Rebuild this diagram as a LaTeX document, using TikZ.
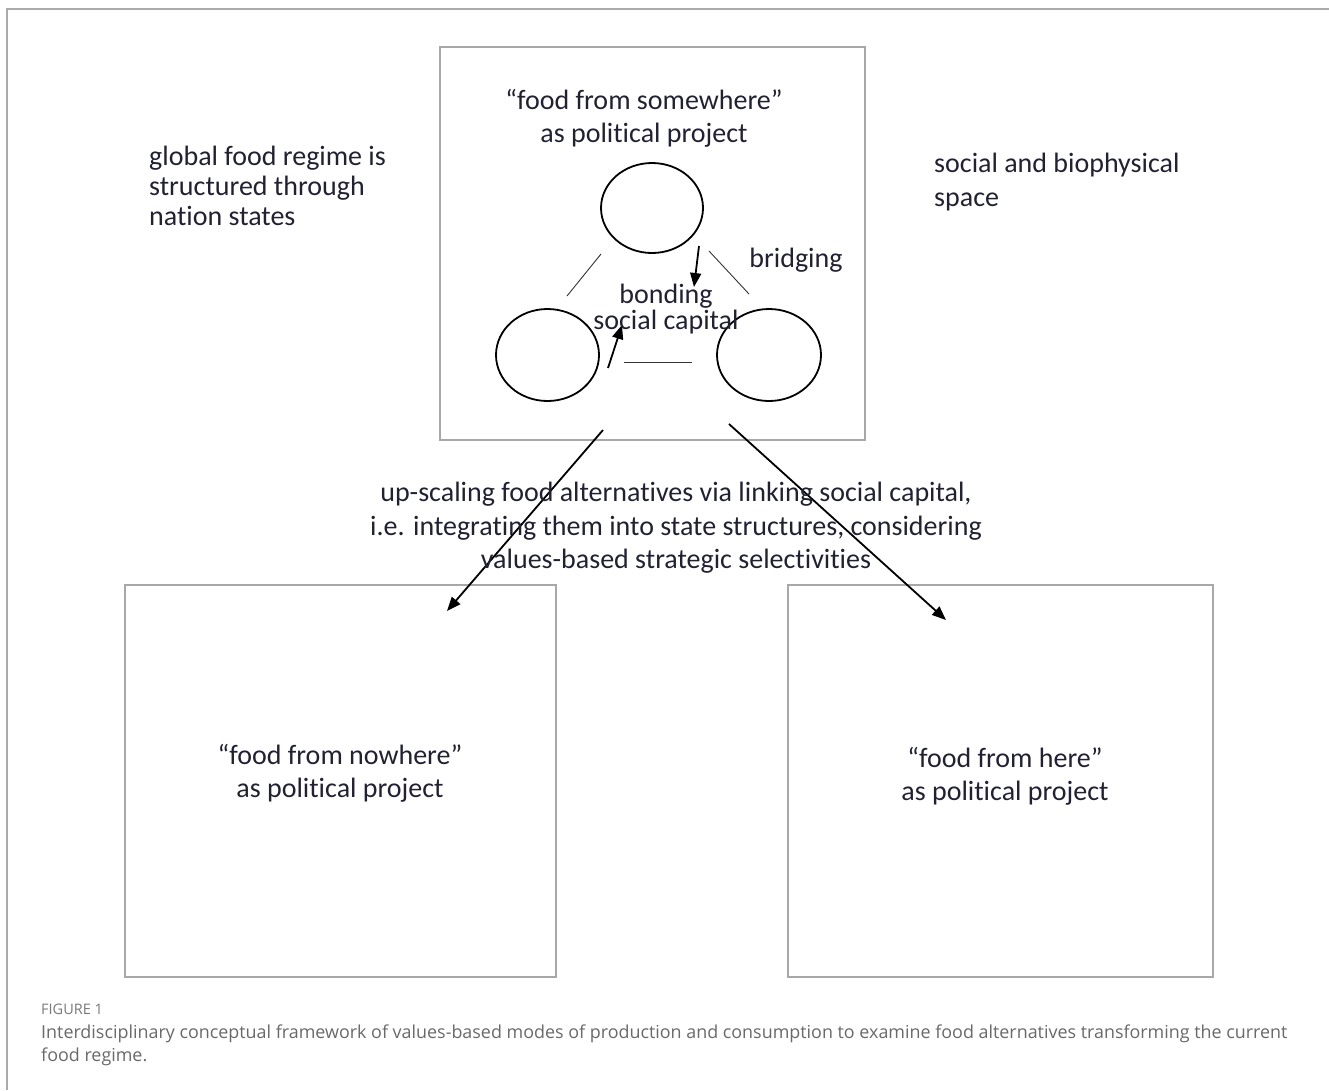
\documentclass[tikz,border=0pt]{standalone}
\usepackage{fontspec}
\setmainfont[Ligatures=NoCommon]{Carlito}
\newfontfamily\capfont{Open Sans}
\usetikzlibrary{arrows.meta,shapes.geometric}
\definecolor{txt}{RGB}{32,34,52}
\definecolor{frame}{RGB}{170,170,170}
\definecolor{boxc}{RGB}{168,168,168}
\definecolor{capc}{RGB}{105,105,105}
\tikzset{
  lbl/.style={inner sep=0pt, text=txt, font=\fontsize{28}{33}\selectfont},
  bigbox/.style={draw=boxc, line width=1.3pt, inner sep=0pt},
  ring/.style={ellipse, draw=black, line width=1.8pt, inner sep=0pt},
  thin/.style={draw=black!80, line width=0.9pt},
  arr/.style={draw=black, line width=1.8pt, -{Triangle[length=14pt,width=11pt]}},
}
\begin{document}
\begin{tikzpicture}[x=1pt,y=-1pt]
\useasboundingbox (0,0) rectangle (1329,1090);
% outer frame
\draw[frame, line width=1.8pt] (7,1090) -- (7,9) -- (1329,9);
% boxes
\node[bigbox, minimum width=425pt, minimum height=393pt] (topbox) at (652.5,243.5) {};
\node[bigbox, minimum width=431pt, minimum height=392pt] (leftbox) at (340.5,781) {};
\node[bigbox, minimum width=425pt, minimum height=392pt] (rightbox) at (1000.5,781) {};
% circles
\node[ring, minimum width=102pt, minimum height=90pt] (c1) at (652,208) {};
\node[ring, minimum width=103pt, minimum height=92pt] (c2) at (547.5,355) {};
\node[ring, minimum width=104pt, minimum height=92pt] (c3) at (769,355) {};
% short links
\coordinate (l1a) at (601,254); \coordinate (l1b) at (567,296);
\coordinate (l2a) at (709,251); \coordinate (l2b) at (749,294);
\coordinate (l3a) at (624,362); \coordinate (l3b) at (692,362);
\draw[thin] (l1a) -- (l1b);
\draw[thin] (l2a) -- (l2b);
\draw[thin] (l3a) -- (l3b);
% small arrows
\coordinate (a1s) at (699,246); \coordinate (a1e) at (694,287);
\coordinate (a2s) at (608,368); \coordinate (a2e) at (622,325);
\draw[arr] (a1s) -- (a1e);
\draw[arr] (a2s) -- (a2e);
% big arrows
\coordinate (b1s) at (603,430); \coordinate (b1e) at (447,611);
\coordinate (b2s) at (729,424); \coordinate (b2e) at (946,620);
\draw[arr] (b1s) -- (b1e);
\draw[arr] (b2s) -- (b2e);
% labels
\node[lbl, align=center] (tsome) at (644,118) {“food from somewhere”\\as political project};
\node[lbl, align=left, anchor=west, font=\fontsize{28}{30}\selectfont] (tglob) at (149,186) {global food regime is\\structured through\\nation states};
\node[lbl, align=left, anchor=west, font=\fontsize{28}{34}\selectfont] (tspace) at (934,182) {social and biophysical\\space};
\node[lbl] (tbridge) at (796,260) {bridging};
\node[lbl, align=center, font=\fontsize{28}{18.5}\selectfont] (tbond) at (666,309) {bonding\\social capital};
\node[lbl, align=center, font=\fontsize{28}{33.5}\selectfont] (tup) at (676,528) {up-scaling food alternatives via linking social capital,\\i.e. integrating them into state structures, considering\\values-based strategic selectivities};
\node[lbl, align=center] (tnow) at (340,773) {“food from nowhere”\\as political project};
\node[lbl, align=center] (there) at (1005,776) {“food from here”\\as political project};
% caption
\node[inner sep=0pt, anchor=west, text=capc!90, font=\capfont\fontsize{14.5}{16}\selectfont] (fig) at (41,1009) {FIGURE 1};
\node[inner sep=0pt, anchor=north west, align=left, text=capc, font=\capfont\fontsize{17.9}{23}\selectfont] (cap) at (41,1025) {Interdisciplinary conceptual framework of values-based modes of production and consumption to examine food alternatives transforming the current\\food regime.};
\end{tikzpicture}
\end{document}
